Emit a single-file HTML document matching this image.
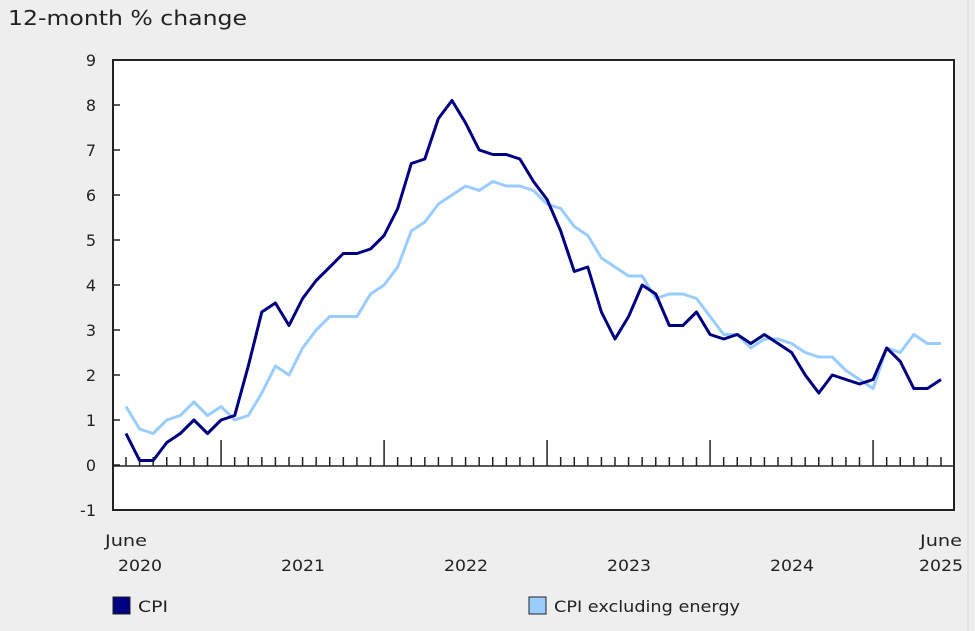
<!DOCTYPE html>
<html><head><meta charset="utf-8"><style>
html,body{margin:0;padding:0;background:#eeeeee;}
svg{display:block;font-family:"DejaVu Sans","Liberation Sans",sans-serif;}
</style></head><body>
<svg id="c" width="975" height="631" viewBox="0 0 975 631" xmlns="http://www.w3.org/2000/svg">
<rect width="975" height="631" fill="#eeeeee"/>
<line x1="968" y1="0" x2="968" y2="631" stroke="#d8d8d8" stroke-width="1"/>
<text x="8" y="25" font-size="20" fill="#222" textLength="239" lengthAdjust="spacingAndGlyphs">12-month % change</text>
<rect x="113" y="60" width="841" height="450" fill="#fff" stroke="#222" stroke-width="2"/>
<line x1="113" y1="466" x2="954" y2="466" stroke="#222" stroke-width="1.5"/>
<g id="yl" font-size="16" fill="#222" text-anchor="end"></g>
<g id="tk" stroke="#222" stroke-width="1.5"></g>
<polyline id="ex" fill="none" stroke="#99ccff" stroke-width="3" stroke-linejoin="round"/>
<polyline id="cpi" fill="none" stroke="#000080" stroke-width="3" stroke-linejoin="round"/>
<g font-size="16" fill="#222" text-anchor="middle">
<text x="126" y="546" textLength="42" lengthAdjust="spacingAndGlyphs">June</text>
<text x="140" y="571" textLength="44" lengthAdjust="spacingAndGlyphs">2020</text>
<text x="303" y="571" textLength="44" lengthAdjust="spacingAndGlyphs">2021</text>
<text x="466" y="571" textLength="44" lengthAdjust="spacingAndGlyphs">2022</text>
<text x="629" y="571" textLength="44" lengthAdjust="spacingAndGlyphs">2023</text>
<text x="792" y="571" textLength="44" lengthAdjust="spacingAndGlyphs">2024</text>
<text x="941" y="546" textLength="42" lengthAdjust="spacingAndGlyphs">June</text>
<text x="941" y="571" textLength="44" lengthAdjust="spacingAndGlyphs">2025</text>
</g>
<rect x="113" y="597" width="17" height="17" fill="#000080" stroke="#222" stroke-width="1"/>
<text x="138" y="612" font-size="16" fill="#222" textLength="30" lengthAdjust="spacingAndGlyphs">CPI</text>
<rect x="529" y="597" width="17" height="17" fill="#99ccff" stroke="#222" stroke-width="1"/>
<text x="554" y="612" font-size="16" fill="#222" textLength="186" lengthAdjust="spacingAndGlyphs">CPI excluding energy</text>
</svg>
<script>
var cpi=[0.7,0.1,0.1,0.5,0.7,1.0,0.7,
1.0,1.1,2.2,3.4,3.6,3.1,3.7,4.1,4.4,4.7,4.7,4.8,
5.1,5.7,6.7,6.8,7.7,8.1,7.6,7.0,6.9,6.9,6.8,6.3,
5.9,5.2,4.3,4.4,3.4,2.8,3.3,4.0,3.8,3.1,3.1,3.4,
2.9,2.8,2.9,2.7,2.9,2.7,2.5,2.0,1.6,2.0,1.9,1.8,
1.9,2.6,2.3,1.7,1.7,1.9];
var ex=[1.3,0.8,0.7,1.0,1.1,1.4,1.1,
1.3,1.0,1.1,1.6,2.2,2.0,2.6,3.0,3.3,3.3,3.3,3.8,
4.0,4.4,5.2,5.4,5.8,6.0,6.2,6.1,6.3,6.2,6.2,6.1,
5.8,5.7,5.3,5.1,4.6,4.4,4.2,4.2,3.7,3.8,3.8,3.7,
3.3,2.9,2.9,2.6,2.8,2.8,2.7,2.5,2.4,2.4,2.1,1.9,
1.7,2.6,2.5,2.9,2.7,2.7];
function X(i){return 126+i*(815/60);}
function Y(v){return 465-v*45;}
function pts(a){return a.map(function(v,i){return X(i).toFixed(1)+","+Y(v).toFixed(1);}).join(" ");}
document.getElementById("cpi").setAttribute("points",pts(cpi));
document.getElementById("ex").setAttribute("points",pts(ex));
var ns="http://www.w3.org/2000/svg";
var yl=document.getElementById("yl");
for(var v=-1;v<=9;v++){var t=document.createElementNS(ns,"text");t.setAttribute("x",96);t.setAttribute("y",Y(v)+6);t.textContent=v;yl.appendChild(t);
if(v>-1&&v<9){var l=document.createElementNS(ns,"line");l.setAttribute("x1",113);l.setAttribute("x2",120);l.setAttribute("y1",Y(v));l.setAttribute("y2",Y(v));l.setAttribute("stroke","#222");l.setAttribute("stroke-width","1.5");yl.appendChild(l);}}
var tk=document.getElementById("tk");
for(var i=0;i<=60;i++){var l=document.createElementNS(ns,"line");var maj=(i%12==7);l.setAttribute("x1",X(i));l.setAttribute("x2",X(i));l.setAttribute("y1",466);l.setAttribute("y2",maj?440:457);tk.appendChild(l);}
</script>
</body></html>
